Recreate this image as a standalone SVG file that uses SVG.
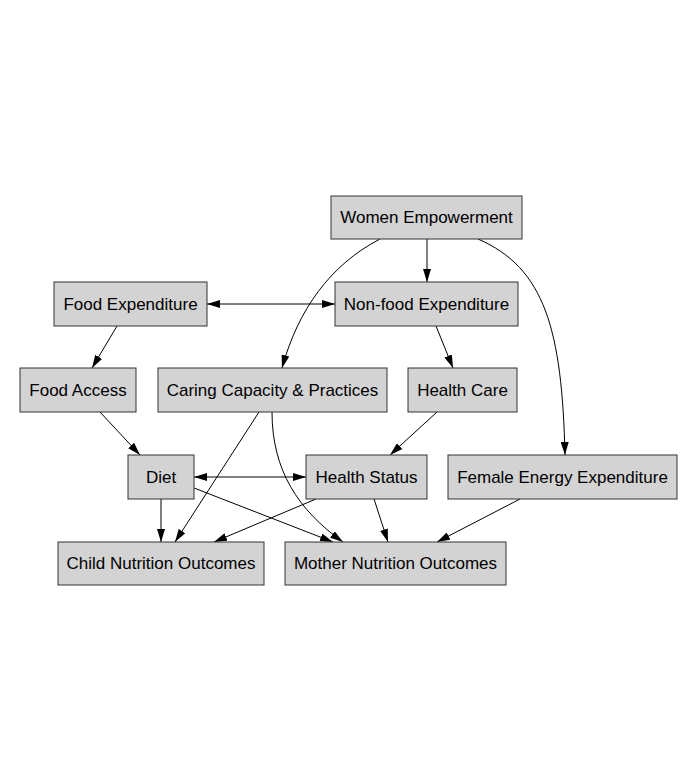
<svg xmlns="http://www.w3.org/2000/svg" width="694" height="779" viewBox="0 0 694 779">
<style>
.n rect{fill:#d3d3d3;stroke:#333;stroke-width:1}
.n text{font-family:"Liberation Sans",Arial,sans-serif;font-size:17px;fill:#000;text-anchor:middle}
.e path{fill:none;stroke:#000;stroke-width:1;marker-end:url(#ah)}
.e path.b{marker-start:url(#ah)}
</style>
<defs>
<marker id="ah" markerUnits="userSpaceOnUse" markerWidth="13" markerHeight="8" viewBox="0 0 13 8" refX="13" refY="4" orient="auto-start-reverse">
<path d="M0,0 L13,4 L0,8 Z" fill="#000"/>
</marker>
</defs>
<rect width="694" height="779" fill="#fff"/>
<g id="edges" class="e">
<path d="M427,239 L427,282"/>
<path d="M380,239 C330,265 298,310 282,368"/>
<path d="M478,239 C545,268 562,330 565,455"/>
<path class="b" d="M207,304 L335,304"/>
<path d="M117,326 L92,368"/>
<path d="M436,326 L453,368"/>
<path d="M100,412 L140,455"/>
<path d="M437,412 L390,455"/>
<path class="b" d="M194,477 L306,477"/>
<path d="M259,412 L175,542"/>
<path d="M272,412 C272,470 298,510 343,542"/>
<path d="M161,499 L161,542"/>
<path d="M194,488 L333,542"/>
<path d="M316,499 L214,542"/>
<path d="M374,499 L388,542"/>
<path d="M520,499 L437,542"/>
</g>
<g id="women" class="n"><rect x="331" y="196" width="191" height="43"/><text x="426.5" y="223">Women Empowerment</text></g>
<g id="foodexp" class="n"><rect x="54" y="282" width="153" height="44"/><text x="130.5" y="310">Food Expenditure</text></g>
<g id="nonfood" class="n"><rect x="335" y="282" width="183" height="44"/><text x="426.5" y="310">Non-food Expenditure</text></g>
<g id="foodaccess" class="n"><rect x="20" y="368" width="116" height="44"/><text x="78" y="396">Food Access</text></g>
<g id="caring" class="n"><rect x="158" y="368" width="229" height="44"/><text x="272.5" y="396">Caring Capacity &amp; Practices</text></g>
<g id="healthcare" class="n"><rect x="408" y="368" width="109" height="44"/><text x="462.5" y="396">Health Care</text></g>
<g id="diet" class="n"><rect x="128" y="455" width="66" height="44"/><text x="161" y="483">Diet</text></g>
<g id="healthstatus" class="n"><rect x="306" y="455" width="121" height="44"/><text x="366.5" y="483">Health Status</text></g>
<g id="female" class="n"><rect x="448" y="455" width="229" height="44"/><text x="562.5" y="483">Female Energy Expenditure</text></g>
<g id="child" class="n"><rect x="58" y="542" width="206" height="43"/><text x="161" y="569">Child Nutrition Outcomes</text></g>
<g id="mother" class="n"><rect x="285" y="542" width="221" height="43"/><text x="395.5" y="569">Mother Nutrition Outcomes</text></g>
</svg>
